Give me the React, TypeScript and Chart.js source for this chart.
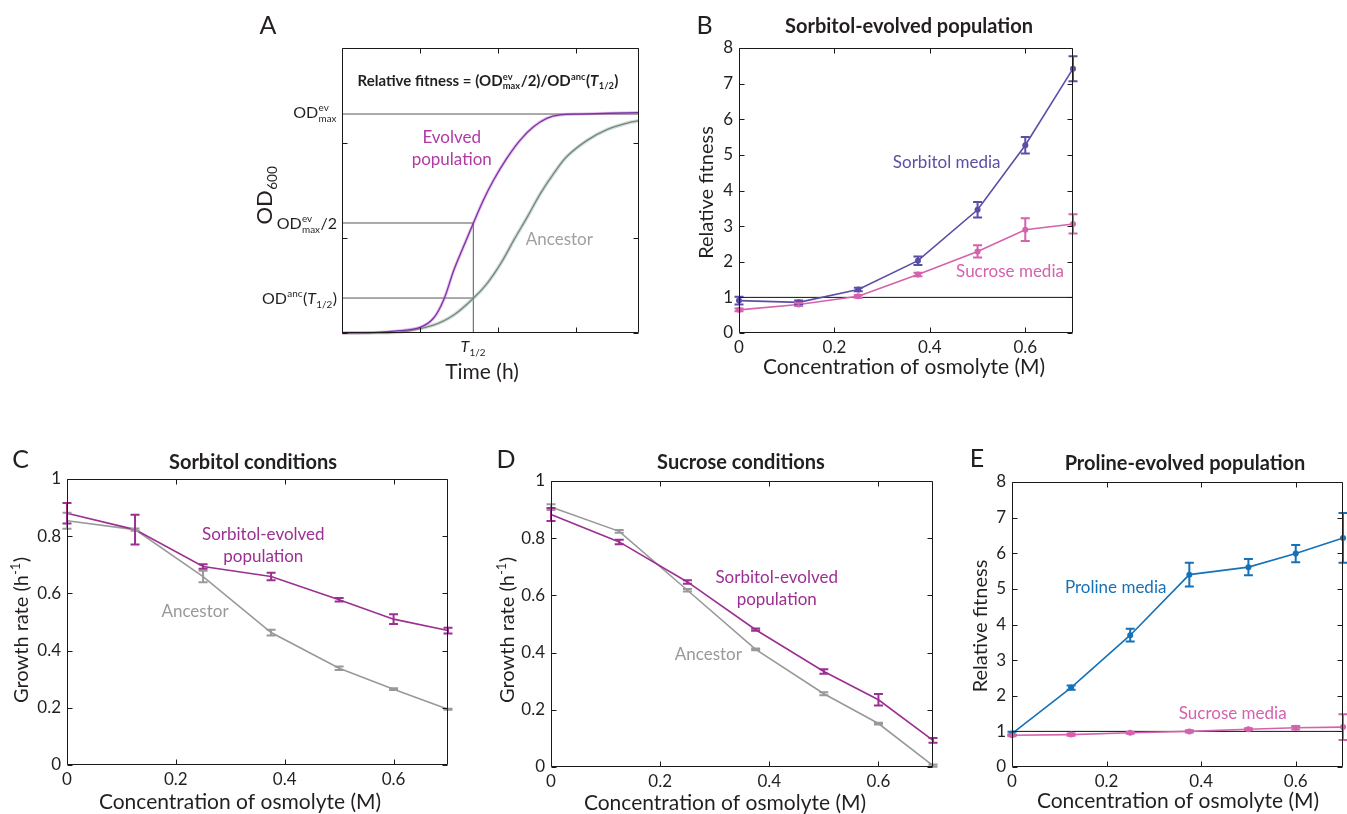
import React, { useEffect, useRef } from "react";
import { Chart, registerables } from "chart.js";
Chart.register(...registerables);

const FONT = "Lato, 'Open Sans', sans-serif";
const INK = "#231f20";
const PURPLE_BLUE = "#5b4ea6";
const PINK = "#d462ad";
const MAGENTA = "#9c2f92";
const GREY = "#999999";
const BLUE = "#1672b8";

// ---------- Panel A: illustrative growth curves ----------
const timeEvolved = [0, 0.4, 0.74, 1.0, 1.17, 1.3, 1.43, 1.555, 1.68, 1.81, 1.94, 2.11, 2.28, 2.45, 2.62, 2.79, 3.05, 3.8];
const odEvolved = [0, 0.005, 0.024, 0.06, 0.155, 0.347, 0.66, 0.91, 1.155, 1.4, 1.61, 1.84, 2.03, 2.17, 2.26, 2.295, 2.305, 2.32];
const timeAncestor = [0, 0.4, 0.74, 1.17, 1.43, 1.68, 1.855, 2.03, 2.2, 2.37, 2.54, 2.71, 2.88, 3.14, 3.39, 3.65, 3.8];
const odAncestor = [0, 0.002, 0.01, 0.084, 0.19, 0.365, 0.52, 0.73, 0.98, 1.22, 1.47, 1.68, 1.86, 2.03, 2.14, 2.21, 2.235];
const odMaxEv = 2.305;
const odHalfEv = 1.158;
const odAncAtHalf = 0.368;
const tHalf = 1.68;
const timeMax = 3.8;
const odMaxAxis = 3;
const timeTicks = [0, 1, 2, 3];
const odTicks = [0, 1, 2, 3];

// ---------- Panels B–E ----------
const concentration = [0, 0.125, 0.25, 0.375, 0.5, 0.6, 0.7];
const concMax = 0.7;
const concTicks = [0, 0.2, 0.4, 0.6];
const fitnessTicks = [0, 1, 2, 3, 4, 5, 6, 7, 8];
const growthTicks = [0, 0.2, 0.4, 0.6, 0.8, 1];
const neutralFitness = 1;

// B: sorbitol-evolved population
const bSorbitolMedia = [0.91, 0.86, 1.22, 2.03, 3.46, 5.27, 7.42];
const bSorbitolMediaErr = [0.11, 0.05, 0.05, 0.12, 0.22, 0.23, 0.35];
const bSucroseMedia = [0.65, 0.8, 1.03, 1.64, 2.29, 2.9, 3.06];
const bSucroseMediaErr = [0.04, 0.04, 0.04, 0.05, 0.17, 0.32, 0.27];

// C: sorbitol conditions (growth rate, 1/h)
const cEvolved = [0.88, 0.823, 0.694, 0.659, 0.578, 0.51, 0.47];
const cEvolvedErr = [0.036, 0.052, 0.008, 0.013, 0.006, 0.017, 0.01];
const cAncestor = [0.854, 0.823, 0.659, 0.463, 0.338, 0.265, 0.195];
const cAncestorErr = [0.028, 0.004, 0.02, 0.01, 0.006, 0.003, 0.002];

// D: sucrose conditions
const dEvolved = [0.883, 0.787, 0.647, 0.48, 0.334, 0.235, 0.093];
const dEvolvedErr = [0.023, 0.008, 0.006, 0.004, 0.008, 0.02, 0.008];
const dAncestor = [0.909, 0.824, 0.618, 0.411, 0.256, 0.152, 0.005];
const dAncestorErr = [0.01, 0.005, 0.004, 0.003, 0.005, 0.003, 0.004];

// E: proline-evolved population
const eProlineMedia = [0.94, 2.23, 3.7, 5.4, 5.61, 5.99, 6.43];
const eProlineMediaErr = [0.05, 0.06, 0.18, 0.33, 0.23, 0.24, 0.7];
const eSucroseMedia = [0.89, 0.91, 0.96, 1.0, 1.06, 1.1, 1.12];
const eSucroseMediaErr = [0.03, 0.03, 0.03, 0.03, 0.03, 0.05, 0.36];

// ---------- text helpers ----------
type Seg = { t?: string; sup?: string; sub?: string; i?: boolean };
const fontStr = (size: number, weight: string, italic?: boolean) =>
  `${italic ? "italic " : ""}${weight} ${size}px ${FONT}`;

function richWidth(ctx: CanvasRenderingContext2D, segs: Seg[], size: number, weight: string) {
  let w = 0;
  for (const s of segs) {
    if (s.t !== undefined) {
      ctx.font = fontStr(size, weight, s.i);
      w += ctx.measureText(s.t).width;
    } else {
      ctx.font = fontStr(size * 0.62, weight);
      const a = s.sup ? ctx.measureText(s.sup).width : 0;
      const b = s.sub ? ctx.measureText(s.sub).width : 0;
      w += Math.max(a, b) + size * 0.05;
    }
  }
  return w;
}

function drawRich(
  ctx: CanvasRenderingContext2D, segs: Seg[], x: number, y: number, size: number,
  weight: string, color: string, align: "left" | "center" | "right"
) {
  const w = richWidth(ctx, segs, size, weight);
  let cx = align === "center" ? x - w / 2 : align === "right" ? x - w : x;
  ctx.save();
  ctx.fillStyle = color;
  ctx.textAlign = "left";
  ctx.textBaseline = "alphabetic";
  for (const s of segs) {
    if (s.t !== undefined) {
      ctx.font = fontStr(size, weight, s.i);
      ctx.fillText(s.t, cx, y);
      cx += ctx.measureText(s.t).width;
    } else {
      ctx.font = fontStr(size * 0.62, weight);
      const a = s.sup ? ctx.measureText(s.sup).width : 0;
      const b = s.sub ? ctx.measureText(s.sub).width : 0;
      if (s.sup) ctx.fillText(s.sup, cx + size * 0.02, y - size * 0.42);
      if (s.sub) ctx.fillText(s.sub, cx + size * 0.02, y + size * 0.22);
      cx += Math.max(a, b) + size * 0.05;
    }
  }
  ctx.restore();
}

function drawRichRot(ctx: CanvasRenderingContext2D, segs: Seg[], x: number, y: number, size: number, weight: string, color: string) {
  ctx.save();
  ctx.translate(x, y);
  ctx.rotate(-Math.PI / 2);
  drawRich(ctx, segs, 0, 0, size, weight, color, "center");
  ctx.restore();
}

function drawText(ctx: CanvasRenderingContext2D, text: string, x: number, y: number, size: number, weight: string, color: string, baseline: CanvasTextBaseline = "alphabetic") {
  ctx.save();
  ctx.font = fontStr(size, weight);
  ctx.fillStyle = color;
  ctx.textAlign = "center";
  ctx.textBaseline = baseline;
  ctx.fillText(text, x, y);
  ctx.restore();
}

// ---------- chart builder ----------
type ErrSet = { y: number[]; e: number[]; color: string };
type Pg = (x: number, y: number) => [number, number];
type Spec = {
  cx: number; cy: number; cw: number; ch: number;
  L: number; T: number; R: number; B: number;
  xMax: number; yMax: number; xTicks: number[]; yTicks: number[];
  tickLabels: boolean;
  datasets: any[];
  errs: ErrSet[];
  draw: (chart: any, ctx: CanvasRenderingContext2D, pg: Pg) => void;
};

const fmt = (v: any) => {
  const n = Number(v);
  return n === 0 ? "0" : String(Math.round(n * 100) / 100);
};

function buildConfig(s: Spec): any {
  const pg: Pg = (x, y) => [x - s.cx, y - s.cy];
  const deco = {
    id: "deco",
    afterDatasetsDraw(chart: any) {
      const ctx: CanvasRenderingContext2D = chart.ctx;
      const xs = chart.scales.x, ys = chart.scales.y;
      ctx.save();
      for (const eb of s.errs) {
        ctx.strokeStyle = eb.color;
        ctx.lineWidth = 2;
        eb.y.forEach((v, i) => {
          const x = xs.getPixelForValue(concentration[i]);
          const top = ys.getPixelForValue(v + eb.e[i]);
          const bot = ys.getPixelForValue(v - eb.e[i]);
          const cw = 4.5;
          ctx.beginPath();
          ctx.moveTo(x, top); ctx.lineTo(x, bot);
          ctx.moveTo(x - cw, top); ctx.lineTo(x + cw, top);
          ctx.moveTo(x - cw, bot); ctx.lineTo(x + cw, bot);
          ctx.stroke();
        });
      }
      ctx.restore();
    },
    afterDraw(chart: any) {
      const ctx: CanvasRenderingContext2D = chart.ctx;
      const ca = chart.chartArea;
      const xs = chart.scales.x, ys = chart.scales.y;
      const l = Math.round(ca.left) + 0.5, r = Math.round(ca.right) - 0.5;
      const t = Math.round(ca.top) + 0.5, b = Math.round(ca.bottom) - 0.5;
      const tl = 5;
      ctx.save();
      ctx.strokeStyle = "#1a1a1a";
      ctx.lineWidth = 1;
      ctx.beginPath();
      ctx.rect(l, t, r - l, b - t);
      for (const tk of xs.ticks) {
        const x = Math.round(xs.getPixelForValue(tk.value)) + 0.5;
        ctx.moveTo(x, b); ctx.lineTo(x, b - tl);
        ctx.moveTo(x, t); ctx.lineTo(x, t + tl);
      }
      for (const tk of ys.ticks) {
        const y = Math.round(ys.getPixelForValue(tk.value)) + 0.5;
        ctx.moveTo(l, y); ctx.lineTo(l + tl, y);
        ctx.moveTo(r, y); ctx.lineTo(r - tl, y);
      }
      ctx.stroke();
      ctx.restore();
      s.draw(chart, ctx, pg);
    },
  };
  const tickFont = { family: FONT, size: 17 };
  return {
    type: "line",
    data: { datasets: s.datasets },
    plugins: [deco],
    options: {
      responsive: false,
      animation: false,
      devicePixelRatio: 1,
      events: [],
      layout: { padding: { top: s.T - s.cy, right: s.cx + s.cw - s.R, left: 0, bottom: 0 } },
      plugins: { legend: { display: false }, tooltip: { enabled: false }, title: { display: false } },
      scales: {
        x: {
          type: "linear", min: 0, max: s.xMax,
          afterBuildTicks: (sc: any) => { sc.ticks = s.xTicks.map((v) => ({ value: v })); },
          afterFit: (sc: any) => { sc.height = s.cy + s.ch - s.B; },
          grid: { display: false, drawTicks: false },
          border: { display: false },
          ticks: { display: s.tickLabels, padding: 4, font: tickFont, color: INK, callback: fmt, maxRotation: 0, autoSkip: false },
        },
        y: {
          type: "linear", min: 0, max: s.yMax,
          afterBuildTicks: (sc: any) => { sc.ticks = s.yTicks.map((v) => ({ value: v })); },
          afterFit: (sc: any) => { sc.width = s.L - s.cx; },
          grid: { display: false, drawTicks: false },
          border: { display: false },
          ticks: { display: s.tickLabels, padding: 6, font: tickFont, color: INK, callback: fmt, autoSkip: false },
        },
      },
    },
  };
}

const pts = (xs: number[], ys: number[]) => xs.map((x, i) => ({ x, y: ys[i] }));

function lineDs(data: any[], color: string, width: number, radius = 0, extra: any = {}) {
  return {
    data, borderColor: color, backgroundColor: color, borderWidth: width,
    pointRadius: radius, pointBackgroundColor: color, pointBorderWidth: 0,
    tension: 0, clip: false, ...extra,
  };
}

// ---------- panel specs ----------
const smooth = { cubicInterpolationMode: "default", tension: 0.35 };
const specA: Spec = {
  cx: 240, cy: 0, cw: 425, ch: 400, L: 342, T: 48, R: 639, B: 333,
  xMax: timeMax, yMax: odMaxAxis, xTicks: timeTicks, yTicks: odTicks, tickLabels: false,
  errs: [],
  datasets: [
    lineDs(pts(timeEvolved, odEvolved), "#7534a6", 1.3, 0, smooth),
    lineDs(pts(timeEvolved, odEvolved), "rgba(200,100,200,0.4)", 3.2, 0, smooth),
    lineDs(pts(timeAncestor, odAncestor), "#6f8a7c", 1.3, 0, smooth),
    lineDs(pts(timeAncestor, odAncestor), "rgba(160,172,165,0.45)", 3.6, 0, smooth),
    lineDs([{ x: 0, y: odMaxEv }, { x: timeMax, y: odMaxEv }], "#555555", 1),
    lineDs([{ x: 0, y: odHalfEv }, { x: tHalf, y: odHalfEv }], "#555555", 1),
    lineDs([{ x: 0, y: odAncAtHalf }, { x: tHalf, y: odAncAtHalf }], "#555555", 1),
    lineDs([{ x: tHalf, y: 0 }, { x: tHalf, y: odHalfEv }], "#555555", 1),
  ],
  draw: (chart, ctx, pg) => {
    const xs = chart.scales.x;
    const P = (x: number, y: number) => pg(x, y);
    drawText(ctx, "A", ...P(268, 34), 25, "normal", INK);
    drawRich(ctx, [{ t: "Relative fitness = (OD" }, { sup: "ev", sub: "max" }, { t: "/2)/OD" }, { sup: "anc" }, { t: "(" }, { t: "T", i: true }, { sub: "1/2" }, { t: ")" }],
      ...P(488, 86), 15, "bold", INK, "center");
    drawRich(ctx, [{ t: "OD" }, { sup: "ev", sub: "max" }], ...P(337, 118), 16, "normal", INK, "right");
    drawRich(ctx, [{ t: "OD" }, { sup: "ev", sub: "max" }, { t: "/2" }], ...P(337, 229), 16, "normal", INK, "right");
    drawRich(ctx, [{ t: "OD" }, { sup: "anc" }, { t: "(" }, { t: "T", i: true }, { sub: "1/2" }, { t: ")" }], ...P(337, 304), 16, "normal", INK, "right");
    drawText(ctx, "Evolved", ...P(451.7, 138), 17, "normal", "#b03aa4", "middle");
    drawText(ctx, "population", ...P(451.7, 160), 17, "normal", "#b03aa4", "middle");
    drawText(ctx, "Ancestor", ...P(559.3, 240), 17, "normal", "#a0a0a0", "middle");
    drawRich(ctx, [{ t: "T", i: true }, { sub: "1/2" }], xs.getPixelForValue(tHalf), P(0, 352)[1], 16, "normal", INK, "center");
    drawText(ctx, "Time (h)", ...P(482, 379), 21, "normal", INK);
    drawRichRot(ctx, [{ t: "OD" }, { sub: "600" }], ...P(272, 195), 22, "normal", INK);
  },
};

const specB: Spec = {
  cx: 680, cy: 0, cw: 430, ch: 400, L: 739, T: 48, R: 1073, B: 333,
  xMax: concMax, yMax: 8, xTicks: concTicks, yTicks: fitnessTicks, tickLabels: true,
  errs: [
    { y: bSorbitolMedia, e: bSorbitolMediaErr, color: PURPLE_BLUE },
    { y: bSucroseMedia, e: bSucroseMediaErr, color: PINK },
  ],
  datasets: [
    lineDs(pts(concentration, bSorbitolMedia), PURPLE_BLUE, 1.6, 3),
    lineDs(pts(concentration, bSucroseMedia), PINK, 1.6, 3),
    lineDs([{ x: 0, y: neutralFitness }, { x: concMax, y: neutralFitness }], "#111111", 1),
  ],
  draw: (chart, ctx, pg) => {
    drawText(ctx, "B", ...pg(704.5, 34), 25, "normal", INK);
    drawText(ctx, "Sorbitol-evolved population", ...pg(909, 33), 20, "bold", INK);
    drawRichRot(ctx, [{ t: "Relative fitness" }], ...pg(713, 192.5), 20, "normal", INK);
    drawText(ctx, "Concentration of osmolyte (M)", ...pg(904, 374), 21, "normal", INK);
    drawText(ctx, "Sorbitol media", ...pg(946.7, 163), 17, "normal", PURPLE_BLUE, "middle");
    drawText(ctx, "Sucrose media", ...pg(1010, 271.7), 17, "normal", PINK, "middle");
  },
};

const specC: Spec = {
  cx: 0, cy: 420, cw: 470, ch: 394, L: 67, T: 479, R: 448, B: 765,
  xMax: concMax, yMax: 1, xTicks: concTicks, yTicks: growthTicks, tickLabels: true,
  errs: [
    { y: cAncestor, e: cAncestorErr, color: GREY },
    { y: cEvolved, e: cEvolvedErr, color: MAGENTA },
  ],
  datasets: [
    lineDs(pts(concentration, cEvolved), MAGENTA, 1.6),
    lineDs(pts(concentration, cAncestor), GREY, 1.6),
  ],
  draw: (chart, ctx, pg) => {
    drawText(ctx, "C", ...pg(20.5, 468), 25, "normal", INK);
    drawText(ctx, "Sorbitol conditions", ...pg(253, 469), 20, "bold", INK);
    drawRichRot(ctx, [{ t: "Growth rate (h" }, { sup: "-1" }, { t: ")" }], ...pg(28, 630), 20, "normal", INK);
    drawText(ctx, "Concentration of osmolyte (M)", ...pg(240, 809), 21, "normal", INK);
    drawText(ctx, "Sorbitol-evolved", ...pg(263.3, 535), 17, "normal", MAGENTA, "middle");
    drawText(ctx, "population", ...pg(263.3, 556.7), 17, "normal", MAGENTA, "middle");
    drawText(ctx, "Ancestor", ...pg(195, 611.7), 17, "normal", GREY, "middle");
  },
};

const specD: Spec = {
  cx: 475, cy: 420, cw: 470, ch: 394, L: 551, T: 481, R: 933, B: 767,
  xMax: concMax, yMax: 1, xTicks: concTicks, yTicks: growthTicks, tickLabels: true,
  errs: [
    { y: dAncestor, e: dAncestorErr, color: GREY },
    { y: dEvolved, e: dEvolvedErr, color: MAGENTA },
  ],
  datasets: [
    lineDs(pts(concentration, dEvolved), MAGENTA, 1.6),
    lineDs(pts(concentration, dAncestor), GREY, 1.6),
  ],
  draw: (chart, ctx, pg) => {
    drawText(ctx, "D", ...pg(506, 468), 25, "normal", INK);
    drawText(ctx, "Sucrose conditions", ...pg(741, 469), 20, "bold", INK);
    drawRichRot(ctx, [{ t: "Growth rate (h" }, { sup: "-1" }, { t: ")" }], ...pg(514, 630), 20, "normal", INK);
    drawText(ctx, "Concentration of osmolyte (M)", ...pg(725, 810), 21, "normal", INK);
    drawText(ctx, "Sorbitol-evolved", ...pg(776.7, 577.7), 17, "normal", MAGENTA, "middle");
    drawText(ctx, "population", ...pg(776.7, 599.3), 17, "normal", MAGENTA, "middle");
    drawText(ctx, "Ancestor", ...pg(708.3, 654.3), 17, "normal", GREY, "middle");
  },
};

const specE: Spec = {
  cx: 950, cy: 420, cw: 397, ch: 394, L: 1012, T: 482, R: 1346, B: 767,
  xMax: concMax, yMax: 8, xTicks: concTicks, yTicks: fitnessTicks, tickLabels: true,
  errs: [
    { y: eProlineMedia, e: eProlineMediaErr, color: BLUE },
    { y: eSucroseMedia, e: eSucroseMediaErr, color: PINK },
  ],
  datasets: [
    lineDs(pts(concentration, eProlineMedia), BLUE, 1.6, 3),
    lineDs(pts(concentration, eSucroseMedia), PINK, 1.6, 3),
    lineDs([{ x: 0, y: neutralFitness }, { x: concMax, y: neutralFitness }], "#111111", 1),
  ],
  draw: (chart, ctx, pg) => {
    drawText(ctx, "E", ...pg(977, 467), 25, "normal", INK);
    drawText(ctx, "Proline-evolved population", ...pg(1185, 470), 20, "bold", INK);
    drawRichRot(ctx, [{ t: "Relative fitness" }], ...pg(987, 626), 20, "normal", INK);
    drawText(ctx, "Concentration of osmolyte (M)", ...pg(1178, 808), 21, "normal", INK);
    drawText(ctx, "Proline media", ...pg(1115.7, 587.7), 17, "normal", BLUE, "middle");
    drawText(ctx, "Sucrose media", ...pg(1232.7, 714), 17, "normal", PINK, "middle");
  },
};

function Panel({ spec }: { spec: Spec }) {
  const ref = useRef<HTMLCanvasElement>(null);
  useEffect(() => {
    const chart = new Chart(ref.current as HTMLCanvasElement, buildConfig(spec));
    return () => chart.destroy();
  }, [spec]);
  return (
    <canvas
      ref={ref}
      width={spec.cw}
      height={spec.ch}
      style={{ position: "absolute", left: spec.cx, top: spec.cy, width: spec.cw, height: spec.ch, display: "block" }}
    />
  );
}

export default function App() {
  return (
    <div style={{ position: "absolute", left: 0, top: 0, width: 1347, height: 814, background: "#ffffff", overflow: "hidden" }}>
      <Panel spec={specA} />
      <Panel spec={specB} />
      <Panel spec={specC} />
      <Panel spec={specD} />
      <Panel spec={specE} />
    </div>
  );
}
